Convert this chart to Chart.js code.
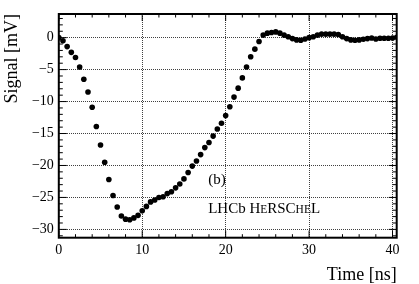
<!DOCTYPE html>
<html><head><meta charset="utf-8">
<script src="https://cdn.jsdelivr.net/npm/chart.js@4.4.1/dist/chart.umd.min.js"></script>
<style>html,body{margin:0;padding:0;background:#fff;overflow:hidden}canvas{display:block}</style>
</head><body>
<canvas id="c" width="419" height="284"></canvas>
<script>
const timeNs = [0,0.5,1,1.5,2,2.5,3,3.5,4,4.5,5,5.5,6,6.5,7,7.5,8,8.5,9,9.5,
  10,10.5,11,11.5,12,12.5,13,13.5,14,14.5,15,15.5,16,16.5,17,17.5,18,18.5,19,19.5,
  20,20.5,21,21.5,22,22.5,23,23.5,24,24.5,25,25.5,26,26.5,27,27.5,28,28.5,29,29.5,
  30,30.5,31,31.5,32,32.5,33,33.5,34,34.5,35,35.5,36,36.5,37,37.5,38,38.5,39,39.5,40,40.5];
const signalMv = [0,-0.5,-1.4,-2.3,-3.1,-4.6,-6.5,-8.5,-10.9,-13.9,-16.8,-19.5,-22.2,-24.7,-26.5,-27.9,-28.4,-28.5,-28.2,-27.8,
  -27.1,-26.4,-25.7,-25.4,-25.0,-24.9,-24.4,-24.1,-23.5,-22.9,-22.1,-21.1,-20.1,-19.3,-18.3,-17.2,-16.4,-15.4,-14.3,-13.4,
  -12.2,-10.8,-9.3,-7.9,-6.3,-4.6,-3.0,-1.8,-0.6,0.4,0.7,0.8,0.9,0.7,0.4,0.15,-0.15,-0.35,-0.4,-0.2,
  0,0.15,0.4,0.55,0.55,0.55,0.55,0.5,0.15,-0.15,-0.35,-0.4,-0.35,-0.25,-0.15,-0.05,-0.2,-0.1,-0.1,-0.1,-0.05,0.05];
const xTickValues = [0,10,20,30,40];
const yTickValues = [-30,-25,-20,-15,-10,-5,0];
const xRange = [0, 40.5];
const yRange = [-31.3, 3.7];

const FONT = "'Liberation Serif', 'DejaVu Serif', serif";
const fmt = v => v < 0 ? '\u2212' + Math.abs(v) : String(v);

const framePlugin = {
  id: 'frame',
  beforeDatasetsDraw(chart) {
    const {ctx, chartArea: a, scales: {x, y}} = chart;
    ctx.save();
    ctx.strokeStyle = '#000';
    ctx.lineWidth = 1;
    const line = (x1, y1, x2, y2) => { ctx.beginPath(); ctx.moveTo(x1, y1); ctx.lineTo(x2, y2); ctx.stroke(); };
    for (let v = 0; v <= xRange[1]; v += 2) {
      const len = v % 10 === 0 ? 7 : 3.5;
      const px = x.getPixelForValue(v);
      line(px, a.bottom, px, a.bottom - len);
      line(px, a.top, px, a.top + len);
    }
    for (let v = -31; v <= 3; v += 1) {
      const len = v % 5 === 0 ? 8 : 4;
      const py = y.getPixelForValue(v);
      line(a.left, py, a.left + len, py);
      line(a.right, py, a.right - len, py);
    }
    ctx.lineWidth = 2;
    ctx.strokeRect(a.left, a.top, a.right - a.left, a.bottom - a.top);
    ctx.restore();
  },
  afterDatasetsDraw(chart) {
    const {ctx, scales: {x, y}} = chart;
    ctx.save();
    ctx.fillStyle = '#000';
    ctx.textBaseline = 'middle';
    ctx.textAlign = 'left';
    ctx.font = '15px ' + FONT;
    ctx.fillText('(b)', x.getPixelForValue(17.9), y.getPixelForValue(-22.3));
    ctx.textBaseline = 'alphabetic';
    let px = x.getPixelForValue(17.9);
    const py = y.getPixelForValue(-27.4);
    const parts = [['LHCb H', 15], ['E', 11.5], ['RSC', 15], ['HE', 11.5], ['L', 15]];
    for (const [t, s] of parts) {
      ctx.font = s + 'px ' + FONT;
      ctx.fillText(t, px, py);
      px += ctx.measureText(t).width;
    }
    ctx.restore();
  }
};

new Chart(document.getElementById('c'), {
  type: 'scatter',
  data: {
    datasets: [{
      data: timeNs.map((t, i) => ({x: t, y: signalMv[i]})),
      backgroundColor: '#000',
      borderColor: '#000',
      pointRadius: 2.8,
      pointBorderWidth: 0,
      showLine: false
    }]
  },
  options: {
    responsive: false,
    animation: false,
    devicePixelRatio: 1,
    layout: {padding: {top: 14, right: 22.3, left: 0, bottom: 0}},
    plugins: {legend: {display: false}, tooltip: {enabled: false}},
    scales: {
      x: {
        type: 'linear', min: xRange[0], max: xRange[1],
        afterFit(s) { s.height = 46.3; },
        afterBuildTicks(s) { s.ticks = xTickValues.map(v => ({value: v})); },
        grid: {color: 'rgba(0,0,0,0.75)', lineWidth: 1, drawTicks: false},
        border: {display: false, dash: [1, 1]},
        ticks: {color: '#000', font: {family: FONT, size: 14}, padding: 4, maxRotation: 0, autoSkip: false, callback: v => fmt(v)},
        title: {display: true, text: 'Time [ns]', align: 'end', color: '#000', font: {family: FONT, size: 18, lineHeight: 1}, padding: {top: 0, bottom: 0}}
      },
      y: {
        type: 'linear', min: yRange[0], max: yRange[1],
        afterFit(s) { s.width = 58.8; },
        afterBuildTicks(s) { s.ticks = yTickValues.map(v => ({value: v})); },
        grid: {color: 'rgba(0,0,0,0.75)', lineWidth: 1, drawTicks: false},
        border: {display: false, dash: [1, 1]},
        ticks: {color: '#000', font: {family: FONT, size: 14}, padding: 5, autoSkip: false, callback: v => fmt(v)},
        title: {display: true, text: 'Signal [mV]', align: 'end', color: '#000', font: {family: FONT, size: 18, lineHeight: 1}, padding: {top: 3, bottom: 0}}
      }
    }
  },
  plugins: [framePlugin]
});
</script>
</body></html>
